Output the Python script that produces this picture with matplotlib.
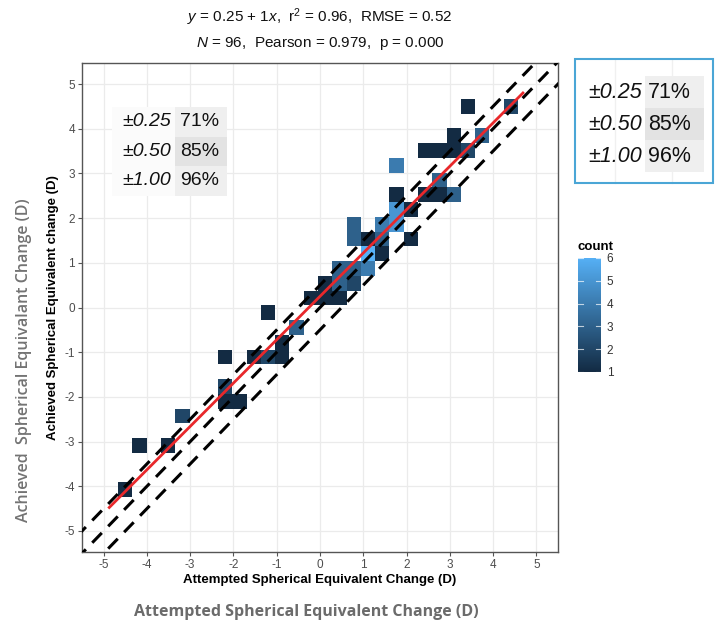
import matplotlib
matplotlib.use("Agg")
import matplotlib.pyplot as plt
from matplotlib.colors import LinearSegmentedColormap, Normalize
from matplotlib.patches import Rectangle
from matplotlib.lines import Line2D
import numpy as np

plt.rcParams['font.family'] = ['Liberation Sans', 'DejaVu Sans']
plt.rcParams['mathtext.fontset'] = 'custom'
plt.rcParams['mathtext.rm'] = 'Liberation Sans'
plt.rcParams['mathtext.it'] = 'Liberation Sans:italic'
plt.rcParams['mathtext.bf'] = 'Liberation Sans:bold'

# ---- data: 2D bin tiles (centers) and counts ----
tile_x = [3.42, 4.41, 3.09, 3.75, 2.43, 2.76, 3.09, 3.42, 1.77, 2.76,
          1.77, 2.43, 2.76, 3.09, 1.77, 2.10, 0.78, 1.44, 1.77, 0.78,
          1.11, 1.44, 2.10, 1.11, 1.44, 0.45, 0.78, 1.11, 0.12, 0.45,
          0.78, -0.21, 0.12, 0.45, -1.20, -0.54, -0.87, -0.87, -1.20, -1.53,
          -2.19, -2.19, -2.19, -1.86, -3.18, -4.17, -3.51, -4.50]
tile_y = [4.50, 4.50, 3.84, 3.84, 3.51, 3.51, 3.51, 3.51, 3.18, 2.85,
          2.52, 2.52, 2.52, 2.52, 2.19, 2.19, 1.86, 1.86, 1.86, 1.53,
          1.53, 1.53, 1.53, 1.20, 1.20, 0.87, 0.87, 0.87, 0.54, 0.54,
          0.54, 0.21, 0.21, 0.21, -0.12, -0.45, -0.78, -1.11, -1.11, -1.11,
          -1.11, -1.77, -2.10, -2.10, -2.43, -3.09, -3.09, -4.08]
tile_count = [1, 2, 1, 3, 1, 1, 1, 2, 4, 3,
              1, 1, 1, 3, 5, 1, 3, 4, 5, 3,
              1, 3, 1, 6, 1, 3, 3, 4, 1, 3,
              2, 1, 1, 1, 1, 3, 1, 1, 2, 1,
              1, 2, 1, 1, 2, 1, 1, 1]
bin_w = 0.33

# regression line
fit_intercept = 0.25
fit_slope = 0.97
fit_x_range = [-4.87, 4.69]
# tolerance lines y = x + offset
tol_offsets = [-0.5, 0.0, 0.5]

ticks = [-5, -4, -3, -2, -1, 0, 1, 2, 3, 4, 5]
tol_labels = ["\u00b10.25", "\u00b10.50", "\u00b11.00"]
tol_pct = ["71%", "85%", "96%"]
cbar_ticks = [1, 2, 3, 4, 5, 6]

W, H = 716, 626
fig = plt.figure(figsize=(W / 100, H / 100), dpi=100)
fig.patch.set_facecolor('white')

def fx(px):
    return px / W

def fy(py):
    return 1 - py / H

ax_l, ax_r, ax_t, ax_b = 82, 558, 63, 552
ax = fig.add_axes([fx(ax_l), fy(ax_b), fx(ax_r - ax_l), (ax_b - ax_t) / H])

cmap = LinearSegmentedColormap.from_list('gg', ['#132B43', '#56B1F7'])
norm = Normalize(vmin=1, vmax=6)

tx = np.array(tile_x)
ty = np.array(tile_y)
tc = np.array(tile_count)
ax.bar(tx, bin_w, width=bin_w, bottom=ty - bin_w / 2, color=cmap(norm(tc)),
       edgecolor='none', zorder=2)

xx = np.array([-6.0, 6.0])
for off in tol_offsets:
    ax.plot(xx, xx + off, color='black', lw=2.2, linestyle=(0, (4.5, 3)), zorder=3)

fxr = np.array(fit_x_range)
ax.plot(fxr, fit_intercept + fit_slope * fxr, color='#E8282B', lw=2.0, zorder=4)

ax.set_xlim(-5.5, 5.5)
ax.set_ylim(-5.47, 5.47)
ax.set_xticks(ticks)
ax.set_yticks(ticks)
ax.set_xticklabels([str(t) for t in ticks])
ax.set_yticklabels([str(t) for t in ticks])
ax.grid(True, color='#EBEBEB', lw=0.9, zorder=0)
ax.set_axisbelow(True)
for s in ax.spines.values():
    s.set_color('#555555')
    s.set_linewidth(1.0)
ax.tick_params(axis='both', colors='#555555', labelcolor='#4D4D4D', labelsize=8.5,
               length=3, width=0.8, pad=2)

ax.set_xlabel('Attempted Spherical Equivalent Change (D)', fontsize=9.5,
              fontweight='bold', color='black', labelpad=2)
ax.set_ylabel('Achieved Spherical Equivalent change (D)', fontsize=9.5,
              fontweight='bold', color='black', labelpad=4)

# title lines
cx = fx((ax_l + ax_r) / 2)
fig.text(cx, fy(17), r'$\it{y}$ = 0.25 + 1$\it{x}$,  r$^2$ = 0.96,  RMSE = 0.52',
         ha='center', va='center', fontsize=11, color='#111111')
fig.text(cx, fy(44), r'$\it{N}$ = 96,  Pearson = 0.979,  p = 0.000',
         ha='center', va='center', fontsize=11, color='#111111')

# inner table
row_tops = [107, 136.5, 166]
row_h = 29.5
cell_cols = ['#EFEFEF', '#E3E3E3', '#EFEFEF']
for i in range(3):
    fig.patches.append(Rectangle((fx(112), fy(row_tops[i] + row_h)), fx(63), row_h / H,
                                 transform=fig.transFigure, facecolor='#FBFBFB',
                                 edgecolor='none', zorder=5))
    fig.patches.append(Rectangle((fx(175), fy(row_tops[i] + row_h)), fx(52), row_h / H,
                                 transform=fig.transFigure, facecolor=cell_cols[i],
                                 edgecolor='none', zorder=5))
    yc = fy(row_tops[i] + row_h / 2)
    fig.text(fx(171), yc, tol_labels[i], ha='right', va='center', fontsize=14,
             style='italic', color='#111111', zorder=6)
    fig.text(fx(180), yc, tol_pct[i], ha='left', va='center', fontsize=14,
             color='#111111', zorder=6)

# right boxed table
bx0, bx1, by0, by1 = 575, 713, 59, 183
for vx in [615, 672]:
    fig.lines.append(Line2D([fx(vx), fx(vx)], [fy(by1), fy(by0)], transform=fig.transFigure,
                            color='#F0F0F0', lw=1.0, zorder=1))
brow_tops = [76, 108, 140]
brow_h = 32
for i in range(3):
    fig.patches.append(Rectangle((fx(645), fy(brow_tops[i] + brow_h)), fx(59), brow_h / H,
                                 transform=fig.transFigure, facecolor=cell_cols[i],
                                 edgecolor='none', zorder=2))
    yc = fy(brow_tops[i] + brow_h / 2)
    fig.text(fx(642), yc, tol_labels[i], ha='right', va='center', fontsize=15.5,
             style='italic', color='#111111', zorder=3)
    fig.text(fx(648), yc, tol_pct[i], ha='left', va='center', fontsize=15.5,
             color='#111111', zorder=3)
fig.patches.append(Rectangle((fx(bx0), fy(by1)), fx(bx1 - bx0), (by1 - by0) / H,
                             transform=fig.transFigure, facecolor='none',
                             edgecolor='#4BA6D6', lw=1.5, zorder=4))

# colorbar
cax = fig.add_axes([fx(578), fy(372), fx(23), (372 - 258) / H])
grad = np.linspace(1, 6, 256).reshape(-1, 1)
cax.imshow(grad, aspect='auto', cmap=cmap, norm=norm, origin='lower',
           extent=[0, 1, 1, 6])
cax.set_xlim(0, 1)
cax.set_ylim(1, 6)
cax.set_xticks([])
cax.yaxis.tick_right()
cax.set_yticks(cbar_ticks)
cax.set_yticklabels([str(t) for t in cbar_ticks])
cax.tick_params(axis='y', length=0, labelsize=8.5, labelcolor='#333333', pad=4)
for t in cbar_ticks:
    cax.plot([0, 0.22], [t, t], color='white', lw=0.8, alpha=0.7)
    cax.plot([0.78, 1], [t, t], color='white', lw=0.8, alpha=0.7)
for s in cax.spines.values():
    s.set_visible(False)
fig.text(fx(578), fy(247), 'count', ha='left', va='center', fontsize=9.5,
         fontweight='bold', color='black')

# outer labels
fig.text(fx(306), fy(612), 'Attempted Spherical Equivalent Change (D)', ha='center',
         va='center', fontsize=11.5, fontweight='bold', color='#6B6B6B',
         family=['Open Sans', 'DejaVu Sans'])
fig.text(fx(24), fy(360), 'Achieved  Spherical Equivalant Change (D)', ha='center',
         va='center', rotation=90, fontsize=11.5, fontweight='semibold', color='#737373',
         family=['Open Sans', 'DejaVu Sans'])

fig.savefig('out.png', dpi=100, facecolor='white')
